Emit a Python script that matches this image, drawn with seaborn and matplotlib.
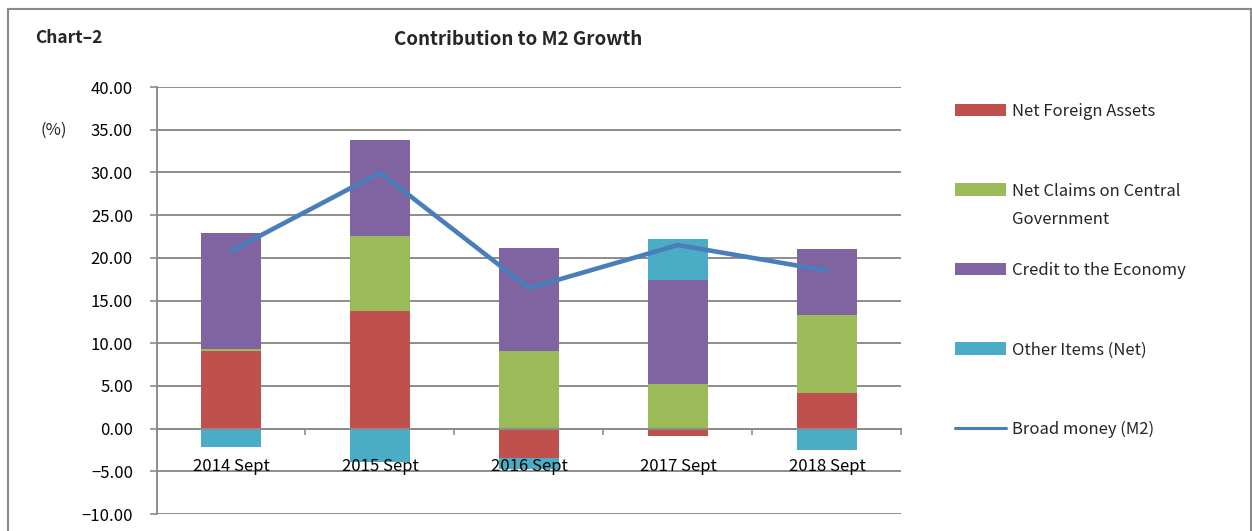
import pandas as pd
import numpy as np
import matplotlib
matplotlib.use("Agg")
import matplotlib.pyplot as plt
from matplotlib.patches import Patch, Rectangle
from matplotlib.lines import Line2D
from matplotlib.ticker import StrMethodFormatter, MultipleLocator, FixedLocator
import seaborn as sns

# Data (percentage points)
periods = ['2014 Sept', '2015 Sept', '2016 Sept', '2017 Sept', '2018 Sept']
net_foreign_assets = [9.12, 13.72, -3.43, -0.90, 4.17]
net_claims_gov = [0.20, 8.85, 9.12, 5.23, 9.16]
credit_economy = [13.60, 11.20, 12.00, 12.20, 7.72]
other_items = [-2.19, -3.90, -1.25, 4.83, -2.54]
broad_money = [20.8, 29.98, 16.45, 21.5, 18.5]

series_names = ['Net Foreign Assets', 'Net Claims on Central Government',
                'Credit to the Economy', 'Other Items (Net)']
COLORS = ['#C0504D', '#9BBB59', '#8064A2', '#4BACC6']
LINE_COLOR = '#4A7EBB'
GRID = '#8c8c8c'

sns.set_theme(style="whitegrid")
plt.rcParams['font.family'] = ['Noto Sans CJK KR', 'DejaVu Sans']

df = pd.DataFrame({
    'period': periods,
    series_names[0]: net_foreign_assets,
    series_names[1]: net_claims_gov,
    series_names[2]: credit_economy,
    series_names[3]: other_items,
    'm2': broad_money,
})

fig = plt.figure(figsize=(12.52, 5.31), dpi=100)
ax = fig.add_axes([0.125, 0.032, 0.595, 0.804])

# stacked bars: positives stack upward, negatives downward
pos_base = np.zeros(len(periods))
neg_base = np.zeros(len(periods))
for name, color in zip(series_names, COLORS):
    vals = df[name].to_numpy()
    bottoms = np.where(vals >= 0, pos_base, neg_base)
    sns.barplot(data=df, x='period', y=name, order=periods, color=color,
                width=0.4, bottom=bottoms, ax=ax, errorbar=None,
                saturation=1, linewidth=0)
    pos_base = pos_base + np.where(vals >= 0, vals, 0)
    neg_base = neg_base + np.where(vals < 0, vals, 0)

sns.pointplot(data=df, x='period', y='m2', order=periods, color=LINE_COLOR,
              markers='', linestyles='-', errorbar=None, ax=ax, linewidth=3.3)

ax.set_xlim(-0.5, 4.5)
ax.set_ylim(-10, 40)
ax.yaxis.set_major_locator(MultipleLocator(5))
ax.yaxis.set_major_formatter(StrMethodFormatter('{x:.2f}'))
ax.set_xlabel('')
ax.set_ylabel('')

ax.grid(False, axis='x')
ax.grid(True, axis='y', color=GRID, linewidth=1.4)
for s in ['top', 'right']:
    ax.spines[s].set_visible(False)
ax.spines['left'].set_color(GRID)
ax.spines['left'].set_linewidth(1.4)
ax.spines['bottom'].set_position(('data', 0))
ax.spines['bottom'].set_color(GRID)
ax.spines['bottom'].set_linewidth(1.4)

ax.tick_params(axis='y', which='major', left=True, length=5, width=1.2,
               color=GRID, pad=12, labelsize=12, labelcolor='black')
ax.tick_params(axis='x', which='major', bottom=False, length=0, pad=21,
               labelsize=12, labelcolor='black')
ax.xaxis.set_minor_locator(FixedLocator(np.arange(-0.5, 5, 1.0)))
ax.tick_params(axis='x', which='minor', bottom=True, length=4.5, width=1.2,
               color=GRID, direction='out')
ax.xaxis.set_zorder(3)
ax.yaxis.set_zorder(0.5)

# titles and notes
fig.text(0.414, 0.925, 'Contribution to M2 Growth', ha='center', va='center',
         fontsize=13.5, fontweight='bold')
fig.text(0.028, 0.929, 'Chart\u20132', ha='left', va='center',
         fontsize=12.5, fontweight='bold')
fig.text(0.032, 0.755, '(%)', ha='left', va='center', fontsize=12)

# outer frame
fig.patches.append(Rectangle((0.0064, -0.2), 0.9927, 1.183, transform=fig.transFigure,
                             fill=False, edgecolor='#8a8a8a', linewidth=1.5,
                             clip_on=False))

handles = [Patch(facecolor=c, edgecolor='none') for c in COLORS]
handles.append(Line2D([], [], color=LINE_COLOR, linewidth=2.2))
labels = ['Net Foreign Assets', 'Net Claims on Central', 'Credit to the Economy',
          'Other Items (Net)', 'Broad money (M2)']
leg = fig.legend(handles, labels, loc='upper left',
                 bbox_to_anchor=(955 / 1252, 1 - 103 / 531), frameon=False,
                 fontsize=12, handlelength=3.06, handleheight=0.78,
                 handletextpad=0.36, labelspacing=3.75, borderpad=0,
                 borderaxespad=0)

fig.canvas.draw()
t = leg.get_texts()[1]
bb = t.get_window_extent()
fig.text(bb.x0 / fig.bbox.width, (bb.y0 - 28) / fig.bbox.height,
         'Government', ha='left', va='bottom', fontsize=12)

fig.savefig('out.png', dpi=100)
